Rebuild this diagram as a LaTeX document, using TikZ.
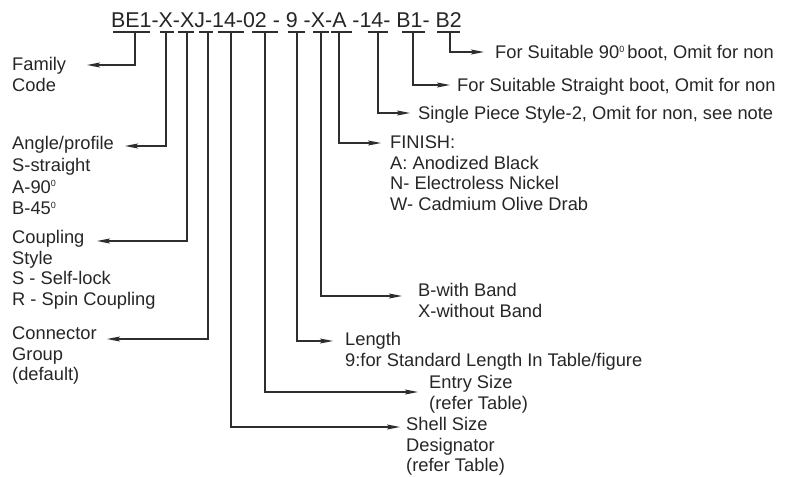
\documentclass[tikz,border=0pt]{standalone}
\usepackage{fontspec}
\setmainfont{Liberation Sans}
\usetikzlibrary{arrows.meta}
\newcommand{\degsup}{\raisebox{6.5pt}{\fontsize{9}{9}\selectfont 0}}
\newcommand{\topstrut}{\rule{0pt}{13.5pt}}
\begin{document}
\begin{tikzpicture}[x=1pt,y=-1pt,
  ink/.style={draw=black!82, line width=1.1pt},
  arr/.style={ink, -{Stealth[length=13pt,width=5pt,inset=2.5pt]}},
  lbl/.style={anchor=north west, align=left, inner sep=0pt, text=black!85, font=\fontsize{18.3}{20.5}\selectfont},
  ]
\useasboundingbox (0,0) rectangle (799,476);
\node[anchor=base, inner sep=0pt, font=\fontsize{21.4}{24}\selectfont, text=black!85] (code) at (286.5,28) {BE1-X-XJ-14-02 - 9 -X-A -14- B1- B2};
% underline bars
\foreach \a/\b in {113/150,160/174,178/194,199/213,218/244,252/278,288/305,313/329,331/352,368/388,402/425,437/460}
  \draw[ink] (\a,32) -- (\b,32);
% stem tops
\coordinate (s1) at (135,32);
\coordinate (s2) at (166,32);
\coordinate (s3) at (187,32);
\coordinate (s4) at (208,32);
\coordinate (s5) at (231,32);
\coordinate (s6) at (265,32);
\coordinate (s7) at (297,32);
\coordinate (s8) at (321,32);
\coordinate (s9) at (339,32);
\coordinate (s10) at (378,32);
\coordinate (s11) at (413,32);
\coordinate (s12) at (450,32);
% arrow tips
\coordinate (t1) at (87,65);
\coordinate (t2) at (125,146);
\coordinate (t3) at (97,241);
\coordinate (t4) at (107,339);
\coordinate (t5) at (400,427);
\coordinate (t6) at (418,392);
\coordinate (t7) at (333,341);
\coordinate (t8) at (402,296);
\coordinate (t9) at (381,143);
\coordinate (t10) at (410,113);
\coordinate (t11) at (450,85);
\coordinate (t12) at (484,52);
% labels (north y = first-line centre - 7)
\node[lbl] (family) at (12,57) {\topstrut Family\\Code};
\node[lbl, font=\fontsize{18.3}{21.7}\selectfont] (angle) at (12,136) {\topstrut Angle/profile\\S-straight\\A-90\degsup\\B-45\degsup};
\node[lbl] (coupling) at (12,230) {\topstrut Coupling\\Style\\S - Self-lock\\R - Spin Coupling};
\node[lbl] (group) at (12,326) {\topstrut Connector\\Group\\(default)};
\node[lbl] (shell) at (406,417) {\topstrut Shell Size\\Designator\\(refer Table)};
\node[lbl] (entry) at (429,375) {\topstrut Entry Size\\(refer Table)};
\node[lbl] (length) at (345,332) {\topstrut Length\\9:for Standard Length In Table/figure};
\node[lbl] (band) at (418,283) {\topstrut B-with Band\\X-without Band};
\node[lbl] (finish) at (390,135) {\topstrut FINISH:\\A: Anodized Black\\N- Electroless Nickel\\W- Cadmium Olive Drab};
\node[lbl] (single) at (418,106) {\topstrut Single Piece Style-2, Omit for non, see note};
\node[lbl] (straight) at (457,78) {\topstrut For Suitable Straight boot, Omit for non};
\node[lbl] (ninety) at (495,45) {\topstrut For Suitable 90\degsup\,boot, Omit for non};
% connectors
\foreach \i in {1,...,12}
  \draw[arr] (s\i) |- (t\i);
\end{tikzpicture}
\end{document}
